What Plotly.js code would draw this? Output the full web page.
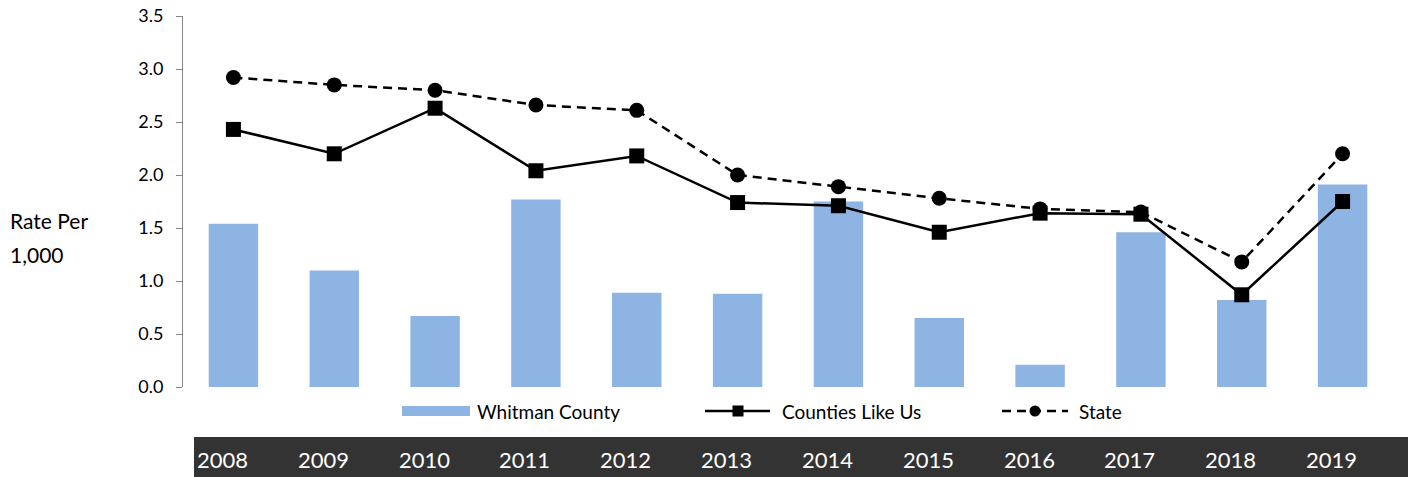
<!DOCTYPE html>
<html>
<head>
<meta charset="utf-8">
<script src="https://cdn.plot.ly/plotly-3.0.1.min.js"></script>
<style>
  html, body { margin: 0; padding: 0; background: #ffffff; }
  #chart { width: 1408px; height: 477px; }
</style>
</head>
<body>
<div id="chart"></div>
<script>
// ---- Data ----
const years = ['2008','2009','2010','2011','2012','2013','2014','2015','2016','2017','2018','2019'];
const whitmanCounty = [1.54, 1.10, 0.67, 1.77, 0.89, 0.88, 1.75, 0.65, 0.21, 1.46, 0.82, 1.91];
const countiesLikeUs = [2.43, 2.20, 2.63, 2.04, 2.18, 1.74, 1.71, 1.46, 1.64, 1.63, 0.87, 1.75];
const stateRate = [2.92, 2.85, 2.80, 2.66, 2.61, 2.00, 1.89, 1.78, 1.68, 1.65, 1.18, 2.20];
const seriesNames = ['Whitman County', 'Counties Like Us', 'State'];
const yTitleLines = ['Rate Per', '1,000'];

// ---- Geometry helpers (pixel -> paper) ----
const L = 183, R = 15, T = 16, B = 90;
const W = 1408 - L - R, H = 477 - T - B;
const px = p => (p - L) / W;
const py = p => (T + H - p) / H;

const FONT = 'Lato, "Open Sans", sans-serif';
const barColor = '#8EB4E3';
const dashPattern = '9px,6px';

const traces = [
  {
    type: 'bar', x: years, y: whitmanCounty, name: seriesNames[0],
    marker: { color: barColor, line: { width: 0 } }, width: 0.49
  },
  {
    type: 'scatter', mode: 'lines+markers', x: years, y: stateRate, name: seriesNames[2],
    line: { color: '#000000', width: 2.5, dash: dashPattern },
    marker: { symbol: 'circle', size: 15, color: '#000000' }
  },
  {
    type: 'scatter', mode: 'lines+markers', x: years, y: countiesLikeUs, name: seriesNames[1],
    line: { color: '#000000', width: 2.5 },
    marker: { symbol: 'square', size: 15, color: '#000000' }
  }
];

const shapes = [];
const annotations = [];

// dark year band
shapes.push({
  type: 'rect', xref: 'paper', yref: 'paper', layer: 'below',
  x0: px(194), x1: px(1408), y0: py(437), y1: py(477),
  fillcolor: '#333333', line: { width: 0 }
});
// year labels: category index positions on the x axis
years.forEach((yr, i) => {
  annotations.push({
    xref: 'x', yref: 'paper', x: i, y: py(459), xshift: -11,
    text: yr, showarrow: false, xanchor: 'center', yanchor: 'middle',
    font: { family: FONT, size: 22, color: '#ffffff' }
  });
});

// y title (horizontal, two lines)
annotations.push({
  xref: 'paper', yref: 'paper', x: px(8), y: py(220), xanchor: 'left', yanchor: 'middle',
  text: yTitleLines[0], showarrow: false, font: { family: FONT, size: 21, color: '#000000' }
});
annotations.push({
  xref: 'paper', yref: 'paper', x: px(8), y: py(254), xanchor: 'left', yanchor: 'middle',
  text: yTitleLines[1], showarrow: false, font: { family: FONT, size: 21, color: '#000000' }
});

// custom legend
const legY = 411;
const legFont = { family: FONT, size: 19, color: '#000000' };
shapes.push({ type: 'rect', xref: 'paper', yref: 'paper', x0: px(402), x1: px(470), y0: py(406), y1: py(416),
  fillcolor: barColor, line: { width: 0 } });
annotations.push({ xref: 'paper', yref: 'paper', x: px(475), y: py(legY), xanchor: 'left', yanchor: 'middle',
  text: seriesNames[0], showarrow: false, font: legFont });

shapes.push({ type: 'line', xref: 'paper', yref: 'paper', x0: px(705), x1: px(770), y0: py(legY), y1: py(legY),
  line: { color: '#000000', width: 2.5 } });
shapes.push({ type: 'rect', xref: 'paper', yref: 'paper', x0: px(732.5), x1: px(743.5), y0: py(legY - 5.5), y1: py(legY + 5.5),
  fillcolor: '#000000', line: { width: 0 } });
annotations.push({ xref: 'paper', yref: 'paper', x: px(780), y: py(legY), xanchor: 'left', yanchor: 'middle',
  text: seriesNames[1], showarrow: false, font: legFont });

shapes.push({ type: 'line', xref: 'paper', yref: 'paper', x0: px(1002), x1: px(1068), y0: py(legY), y1: py(legY),
  line: { color: '#000000', width: 2.5, dash: dashPattern } });
shapes.push({ type: 'circle', xref: 'paper', yref: 'paper', x0: px(1029.5), x1: px(1040.5), y0: py(legY - 5.5), y1: py(legY + 5.5),
  fillcolor: '#000000', line: { width: 0 } });
annotations.push({ xref: 'paper', yref: 'paper', x: px(1077), y: py(legY), xanchor: 'left', yanchor: 'middle',
  text: seriesNames[2], showarrow: false, font: legFont });

const layout = {
  width: 1408, height: 477,
  margin: { l: L, r: R, t: T, b: B, pad: 0 },
  paper_bgcolor: '#ffffff', plot_bgcolor: '#ffffff',
  showlegend: false,
  font: { family: FONT, size: 18, color: '#000000' },
  xaxis: {
    type: 'category', range: [-0.5, 11.5], showticklabels: false, showline: false,
    showgrid: false, zeroline: false, ticks: '', fixedrange: true
  },
  yaxis: {
    range: [0, 3.5], dtick: 0.5, tick0: 0, tickformat: '.1f',
    showline: true, linecolor: '#868686', linewidth: 1,
    ticks: 'outside', ticklen: 6, tickcolor: '#868686', tickwidth: 1,
    ticklabelstandoff: 9,
    showgrid: false, zeroline: false,
    tickfont: { family: FONT, size: 18, color: '#000000' }, fixedrange: true
  },
  bargap: 0.5,
  shapes: shapes,
  annotations: annotations
};

Plotly.newPlot('chart', traces, layout, { displayModeBar: false, staticPlot: true });
</script>
</body>
</html>
